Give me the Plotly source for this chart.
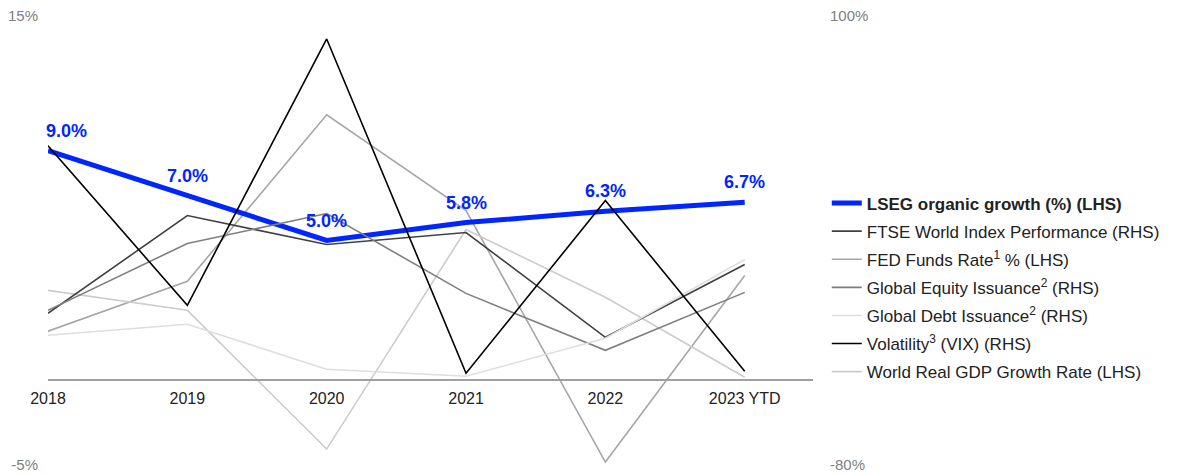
import plotly.graph_objects as go

years = ["2018", "2019", "2020", "2021", "2022", "2023 YTD"]

lseg_growth = [9.0, 7.0, 5.0, 5.8, 6.3, 6.7]            # LHS
ftse_world = [-19.2, 20.0, 8.4, 13.2, -28.8, 0.4]         # RHS
fed_funds = [0.96, 3.18, 10.6, 6.33, -4.87, 3.44]         # LHS
equity_issuance = [-18.0, 8.8, 20.8, -11.2, -34.0, -10.8] # RHS
debt_issuance = [-28.0, -23.6, -41.6, -44.4, -29.2, 2.4]  # RHS
vix = [48.0, -16.0, 90.8, -43.2, 26.0, -42.4]             # RHS
world_gdp = [2.78, 1.89, -4.29, 5.49, 2.47, -1.09]        # LHS

lseg_labels = ["9.0%", "7.0%", "5.0%", "5.8%", "6.3%", "6.7%"]

left_ticks = [-5, 15]
left_ticktext = ["-5%", "15%"]
right_ticks = [-80, 100]
right_ticktext = ["-80%", "100%"]
axis_line_level = -1.22  # LHS value where the category axis crosses

BLUE = "#0026ff"
FONT = "Liberation Sans, Arial, sans-serif"

fig = go.Figure()

series = [
    ("FTSE World Index Performance (RHS)", ftse_world, "#404040", "y2"),
    ("FED Funds Rate<sup>1</sup> % (LHS)", fed_funds, "#a6a6a6", "y"),
    ("Global Equity Issuance<sup>2</sup> (RHS)", equity_issuance, "#7f7f7f", "y2"),
    ("Global Debt Issuance<sup>2</sup> (RHS)", debt_issuance, "#dedede", "y2"),
    ("Volatility<sup>3</sup> (VIX) (RHS)", vix, "#000000", "y2"),
    ("World Real GDP Growth Rate (LHS)", world_gdp, "#cccccc", "y"),
]

for i, (name, vals, color, ax) in enumerate(series):
    fig.add_trace(go.Scatter(
        x=years, y=vals, name=name, mode="lines", yaxis=ax,
        line=dict(color=color, width=1.6),
        legendgroup=f"g{i}", legendrank=i + 2,
    ))

fig.add_trace(go.Scatter(
    x=years, y=lseg_growth, name="<b>LSEG organic growth (%) (LHS)</b>",
    mode="lines", line=dict(color=BLUE, width=5),
    legendgroup="g_lseg", legendrank=1,
))

for i, (v, t) in enumerate(zip(lseg_growth, lseg_labels)):
    fig.add_annotation(
        x=i, y=v, text=f"<b>{t}</b>", showarrow=False, xref="x", yref="y",
        yshift=20, xshift=18 if i == 0 else 0,
        font=dict(family=FONT, size=18, color=BLUE),
    )

# page body has an 8px margin; figure sized/placed to compensate
fig.update_layout(
    width=1177, height=466,
    margin=dict(l=40, r=372, t=8, b=9, autoexpand=False),
    paper_bgcolor="white", plot_bgcolor="white",
    font=dict(family=FONT, color="#222222"),
    showlegend=True,
    legend=dict(
        x=1.018, xanchor="left", y=(457 - 279.5) / 449, yanchor="middle",
        font=dict(family=FONT, size=17, color="#222222"),
        traceorder="grouped", tracegroupgap=3,
        bgcolor="rgba(0,0,0,0)",
    ),
    xaxis=dict(
        type="category", range=[0, 5.49], automargin=False,
        anchor="free", position=(axis_line_level + 5) / 20,
        showline=True, linecolor="#a0a0a0", linewidth=2,
        showgrid=False, zeroline=False, ticks="",
        ticklabelstandoff=4,
        tickfont=dict(family=FONT, size=16, color="#222222"),
    ),
    yaxis=dict(
        range=[-5, 15], tickvals=left_ticks, ticktext=left_ticktext,
        automargin=False, ticklabeloverflow="allow",
        showgrid=False, zeroline=False, showline=False, ticks="",
        ticklabelstandoff=9,
        tickfont=dict(family=FONT, size=15, color="#808080"),
    ),
    yaxis2=dict(
        range=[-80, 100], tickvals=right_ticks, ticktext=right_ticktext,
        overlaying="y", side="right", automargin=False,
        ticklabeloverflow="allow",
        showgrid=False, zeroline=False, showline=False, ticks="",
        ticklabelstandoff=16,
        tickfont=dict(family=FONT, size=15, color="#808080"),
    ),
)

fig.write_html("out.html")
